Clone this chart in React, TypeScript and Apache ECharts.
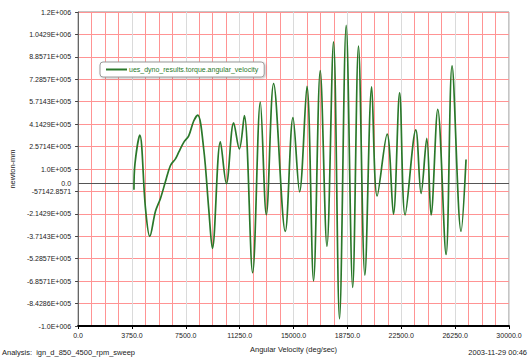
import React, { useEffect, useRef } from "react";
import * as echarts from "echarts";

const seriesName = "ues_dyno_results.torque.angular_velocity";

const angularVelocity = [
  3890, 3960, 4296, 4693, 4992, 5388, 5735, 6083, 6431, 6778, 7008, 7355, 7703, 8050, 8329,
  8746, 9093, 9350, 9907, 10324, 10831, 11227, 11575, 12152, 12687, 13105, 13612, 14425,
  14961, 15420, 15934, 16393, 16859, 17325, 17783, 18200, 18666, 19118, 19521, 19966, 20439,
  20821, 21516, 21955, 22385, 22768, 23512, 23880, 24276, 24575, 25041, 25619, 26035, 26661,
  27009,
];

const torque = [
  -45000, 136000, 337300, -175400, -371500, -196200, -106100, 11700, 124600, 171000, 217500,
  286800, 332500, 436400, 478000, 240300, -175400, -456000, 290900, -2200, 422600, 240300,
  473800, -625800, 569500, -220400, 697600, -336900, 460000, -59700, 678900, -683300, 789800,
  -440800, 990700, -949400, 1106500, -729700, 961000, -643100, 674800, -88800, 344300,
  -217000, 633200, -221800, 374100, -71500, 314500, -221800, 517500, -499000, 822400,
  -336900, 166200,
];

const xTickLabels = [
  "0.0", "3750.0", "7500.0", "11250.0", "15000.0", "18750.0", "22500.0", "26250.0", "30000.0",
];

const yTickLabels = [
  "-1.0E+006", "-8.4286E+005", "-6.8571E+005", "-5.2857E+005", "-3.7143E+005", "-2.1429E+005",
  "-57142.8571", "1.0E+005", "2.5714E+005", "4.1429E+005", "5.7143E+005", "7.2857E+005",
  "8.8571E+005", "1.0429E+006", "1.2E+006",
];

const xName = "Angular Velocity (deg/sec)";
const yName = "newton-mm";
const analysisText = "Analysis:  ign_d_850_4500_rpm_sweep";
const dateText = "2003-11-29 00:46";

const FONT = "Liberation Sans, Arial, sans-serif";
const GREEN = "#2a782a";
const RED = "#ff9494";
const GRAY = "#dadada";

export default function App() {
  const ref = useRef<HTMLDivElement>(null);

  useEffect(() => {
    if (!ref.current) return;
    const chart = echarts.init(ref.current, undefined, { renderer: "svg" });
    const nY = yTickLabels.length - 1;
    const data = angularVelocity.map((x, i) => [x, torque[i]]);

    chart.setOption({
      animation: false,
      backgroundColor: "#ffffff",
      textStyle: { fontFamily: FONT },
      grid: {
        left: 78,
        right: 20,
        top: 12,
        bottom: 29,
        show: true,
        borderColor: "#8a8a8a",
        borderWidth: 1,
        backgroundColor: "#ffffff",
      },
      legend: {
        left: 100,
        top: 62,
        padding: [4, 6],
        borderColor: "#9a9a9a",
        borderWidth: 1,
        borderRadius: 3,
        backgroundColor: "#ffffff",
        shadowColor: "rgba(0,0,0,0.25)",
        shadowBlur: 2,
        shadowOffsetX: 1,
        shadowOffsetY: 1,
        itemWidth: 21,
        itemHeight: 2,
        textStyle: { color: GREEN, fontSize: 7, fontFamily: FONT, padding: [0, 0, 0, -3] },
        data: [{ name: seriesName, icon: "rect" }],
      },
      xAxis: {
        type: "value",
        min: 0,
        max: 30000,
        interval: 3750,
        name: xName,
        nameLocation: "middle",
        nameGap: 19,
        nameTextStyle: { fontSize: 7.5, color: "#222", fontFamily: FONT },
        axisLine: { onZero: false, lineStyle: { color: "#000", width: 2 } },
        axisTick: { show: true, length: 3, lineStyle: { color: "#000" } },
        axisLabel: {
          margin: 6,
          fontSize: 7,
          color: "#222",
          fontFamily: FONT,
          formatter: (v: number) => xTickLabels[Math.round(v / 3750)] ?? "",
        },
        splitLine: { show: true, lineStyle: { color: GRAY, width: 1 } },
        minorTick: { show: false, splitNumber: 4 },
        minorSplitLine: { show: true, lineStyle: { color: RED, width: 1 } },
      },
      yAxis: [
        {
          type: "value",
          min: -1000000,
          max: 1200000,
          show: false,
          splitLine: { show: false },
        },
        {
          type: "value",
          min: 0,
          max: nY,
          interval: 1,
          position: "left",
          name: yName,
          nameLocation: "middle",
          nameGap: 55,
          nameTextStyle: { fontSize: 7.5, color: "#222", fontFamily: FONT },
          axisLine: { show: true, onZero: false, lineStyle: { color: "#666", width: 1 } },
          axisTick: { show: true, length: 3, lineStyle: { color: "#444" } },
          axisLabel: {
            margin: 7,
            fontSize: 7,
            color: "#222",
            fontFamily: FONT,
            formatter: (v: number) => yTickLabels[Math.round(v)] ?? "",
          },
          splitLine: { show: true, lineStyle: { color: GRAY, width: 1 } },
        },
        {
          type: "value",
          min: -0.5,
          max: nY - 0.5,
          interval: 1,
          position: "left",
          axisLine: { show: false },
          axisTick: { show: false },
          axisLabel: { show: false },
          splitLine: { show: true, lineStyle: { color: RED, width: 1 } },
        },
      ],
      series: [
        {
          name: seriesName,
          type: "line",
          yAxisIndex: 0,
          data,
          smooth: 0.35,
          symbol: "none",
          showSymbol: false,
          lineStyle: { color: GREEN, width: 1.7 },
          itemStyle: { color: GREEN },
          z: 5,
          markLine: {
            silent: true,
            symbol: "none",
            animation: false,
            lineStyle: { color: "#555", width: 1, type: "solid" },
            label: {
              show: true,
              position: "start",
              distance: 7,
              formatter: "0.0",
              fontSize: 7,
              color: "#222",
              fontFamily: FONT,
            },
            data: [{ yAxis: 0 }],
            z: 3,
          },
        },
      ],
      graphic: [
        {
          type: "text",
          x: 2,
          y: 352,
          style: {
            text: analysisText,
            fontSize: 7.5,
            fill: "#222",
            fontFamily: FONT,
            verticalAlign: "middle",
          },
        },
        {
          type: "text",
          x: 527,
          y: 352,
          style: {
            text: dateText,
            fontSize: 7.5,
            fill: "#222",
            fontFamily: FONT,
            align: "right",
            verticalAlign: "middle",
          },
        },
      ],
    });

    return () => chart.dispose();
  }, []);

  return (
    <div
      ref={ref}
      style={{ position: "absolute", left: 0, top: 0, width: 529, height: 358 }}
    />
  );
}
